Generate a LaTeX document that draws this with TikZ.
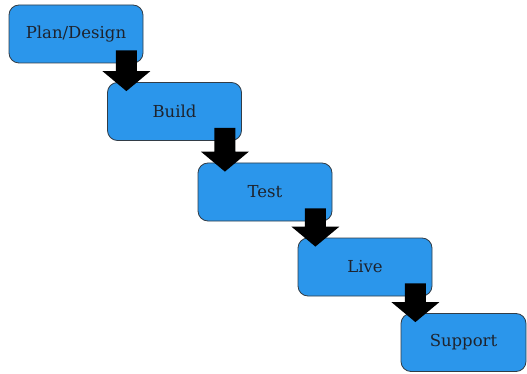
\documentclass[tikz,border=0pt]{standalone}
\usepackage{fontspec}
\setmainfont{DejaVu Serif}
\usetikzlibrary{calc}
\definecolor{boxblue}{RGB}{43,150,235}
\definecolor{edgegray}{RGB}{50,60,70}
\definecolor{inkgray}{RGB}{30,35,45}
\newcommand\stagearrow[2]{%
 \fill[black] let \p1=($(#1.south east)+(-17,-13)$), \p2=(#2.north) in
  (\x1-10.5pt,\y1) -- (\x1+10.5pt,\y1) -- (\x1+10.5pt,\y2+11pt) -- (\x1+24pt,\y2+11pt)
  -- (\x1,\y2-9pt) -- (\x1-24pt,\y2+11pt) -- (\x1-10.5pt,\y2+11pt) -- cycle;}
\begin{document}
\begin{tikzpicture}[x=1pt,y=-1pt,
  stage/.style={draw=edgegray, line width=0.8pt, fill=boxblue, rounded corners=10pt,
    minimum width=134pt, minimum height=58pt, inner sep=0pt, text=inkgray,
    font=\fontsize{16.5}{18}\selectfont}]
\useasboundingbox (0,0) rectangle (527,374);
\node[stage] (plan) at (76,34) {Plan/Design};
\node[stage] (build) at (174.5,111.5) {Build};
\node[stage] (test) at (265,192) {Test};
\node[stage] (live) at (365,267) {Live};
\node[stage, minimum width=125pt] (support) at (463.5,342.5) {Support};
\stagearrow{plan}{build}
\stagearrow{build}{test}
\stagearrow{test}{live}
\stagearrow{live}{support}
\end{tikzpicture}
\end{document}
